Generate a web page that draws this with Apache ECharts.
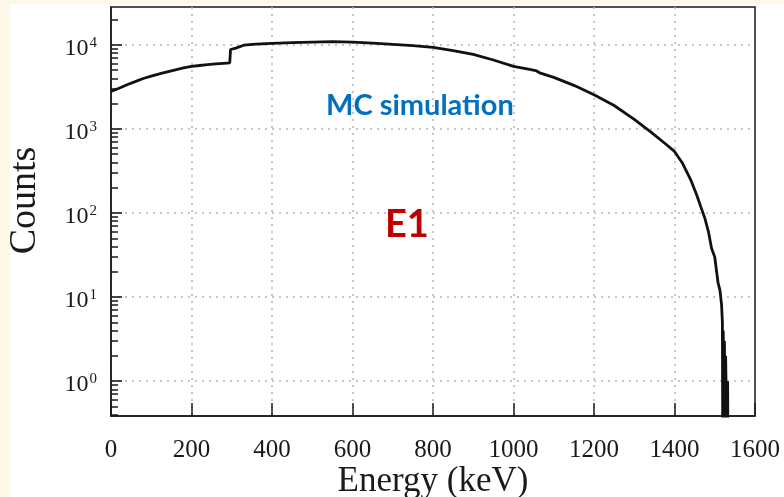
<!DOCTYPE html>
<html>
<head>
<meta charset="utf-8">
<script src="https://cdn.jsdelivr.net/npm/echarts@6/dist/echarts.min.js"></script>
<style>
  html, body { margin: 0; padding: 0; background: #FDF8E7; }
  #chart { width: 784px; height: 497px; }
</style>
</head>
<body>
<div id="chart"></div>
<script>
var chart = echarts.init(document.getElementById("chart"));

// spectrum (energy in keV, counts per bin; 0.1 = empty bin)
var energy = [0, 20, 40, 60, 80, 100, 120, 140, 160, 180, 200, 220, 240, 260, 280, 295,
  297, 310, 330, 360, 400, 450, 500, 550, 600, 650, 700, 750, 800, 850, 900, 950, 1000,
  1040, 1055, 1065, 1100, 1150, 1200, 1250, 1300, 1340, 1375, 1400, 1420, 1440, 1455, 1465,
  1475, 1485, 1492, 1500, 1508, 1513, 1517, 1519, 1520, 1521, 1522, 1523, 1524, 1525, 1526,
  1527, 1528, 1529, 1530, 1531, 1532, 1533];
var counts = [2800, 3050, 3350, 3650, 3980, 4250, 4520, 4780, 5050, 5330, 5530, 5680, 5820, 5930, 6030, 6100,
  8800, 9150, 9900, 10200, 10400, 10600, 10800, 10900, 10800, 10500, 10150, 9800, 9350, 8550, 7700, 6600, 5550,
  5100, 4950, 4650, 4100, 3300, 2550, 1900, 1300, 930, 680, 540, 390, 250, 165, 120,
  88, 58, 38, 30, 15, 12, 8, 5, 0.1, 4, 2, 0.1, 3, 1, 0.1,
  2, 1, 0.1, 1, 0.1, 1, 0.1];

var xTicks = [0, 200, 400, 600, 800, 1000, 1200, 1400, 1600];
var yMinorTicks = [0.4, 0.5, 0.6, 0.7, 0.8, 0.9, 2, 3, 4, 5, 6, 7, 8, 9,
  20, 30, 40, 50, 60, 70, 80, 90, 200, 300, 400, 500, 600, 700, 800, 900,
  2000, 3000, 4000, 5000, 6000, 7000, 8000, 9000, 20000];
var yMinExp = -0.414;
var yMaxExp = 4.45;

var gridDots = { color: '#b4b4b4', type: [2, 5], width: 1.5 };
var serif = '"Liberation Serif", "DejaVu Serif", serif';

option = {
    backgroundColor: '#FDF8E7',
    animation: false,
    graphic: [
        { type: 'rect', z: -10, shape: { x: 10, y: 4, width: 774, height: 493 }, style: { fill: '#ffffff' } },
        { type: 'text', z: 10, left: 326, top: 91, style: { text: 'MC simulation', fill: '#0070C0',
            font: 'bold 29px Lato, "Open Sans", sans-serif' } },
        { type: 'text', z: 10, left: 385, top: 206, style: { text: 'E1', fill: '#C00000',
            font: 'bold 38px Lato, "Open Sans", sans-serif' } }
    ],
    grid: {
        left: 111, top: 7, right: 29, bottom: 81,
        containLabel: false, outerBoundsMode: 'none',
        show: true, borderColor: '#1a1a1a', borderWidth: 1.5, backgroundColor: 'transparent'
    },
    xAxis: {
        type: 'value',
        min: xTicks[0], max: xTicks[xTicks.length - 1], interval: 200,
        name: 'Energy (keV)', nameLocation: 'middle', nameGap: 48, nameMoveOverlap: false,
        nameTextStyle: { fontFamily: serif, fontSize: 35, color: '#1a1a1a' },
        axisLine: { show: true, onZero: false, lineStyle: { color: '#1a1a1a', width: 1.5 } },
        axisTick: { show: true, inside: true, length: 13, lineStyle: { color: '#1a1a1a', width: 1.5 } },
        axisLabel: {
            fontFamily: serif, fontSize: 25, color: '#1a1a1a', margin: 22,
            formatter: function (v) { return String(v); }
        },
        splitLine: { show: true, showMinLine: false, showMaxLine: false, lineStyle: gridDots }
    },
    yAxis: [
        {
            type: 'log',
            min: Math.pow(10, yMinExp), max: Math.pow(10, yMaxExp),
            name: 'Counts', nameLocation: 'middle', nameGap: 67, nameMoveOverlap: false,
            nameTextStyle: { fontFamily: serif, fontSize: 38, color: '#1a1a1a', padding: [0, 0, 0, 22] },
            axisLine: { show: true, onZero: false, lineStyle: { color: '#1a1a1a', width: 1.5 } },
            axisTick: { show: true, inside: true, length: 11, lineStyle: { color: '#1a1a1a', width: 1.6 } },
            axisLabel: {
                showMinLabel: false, showMaxLabel: false, margin: 14,
                padding: [8, 0, 0, 0],
                formatter: function (v) {
                    return '{b|10}{s|' + Math.round(Math.log10(v)) + '}';
                },
                rich: {
                    b: { fontFamily: serif, fontSize: 24, color: '#1a1a1a' },
                    s: { fontFamily: serif, fontSize: 15, color: '#1a1a1a', padding: [0, 0, 12, 1] }
                }
            },
            splitLine: { show: true, showMinLine: false, showMaxLine: false, lineStyle: gridDots }
        },
        {
            type: 'value',
            min: yMinExp, max: yMaxExp,
            position: 'left',
            axisLine: { show: false, onZero: false },
            axisLabel: { show: false },
            splitLine: { show: false },
            axisTick: {
                show: true, inside: true, length: 7,
                customValues: yMinorTicks.map(Math.log10),
                lineStyle: { color: '#1a1a1a', width: 1.5 }
            }
        }
    ],
    series: [
        {
            name: 'MC simulation',
            type: 'line',
            yAxisIndex: 0,
            data: energy.map(function (e, i) { return [e, counts[i]]; }),
            showSymbol: false,
            clip: true,
            lineStyle: { color: '#111111', width: 2.8 }
        }
    ]
};

chart.setOption(option);
</script>
</body>
</html>
